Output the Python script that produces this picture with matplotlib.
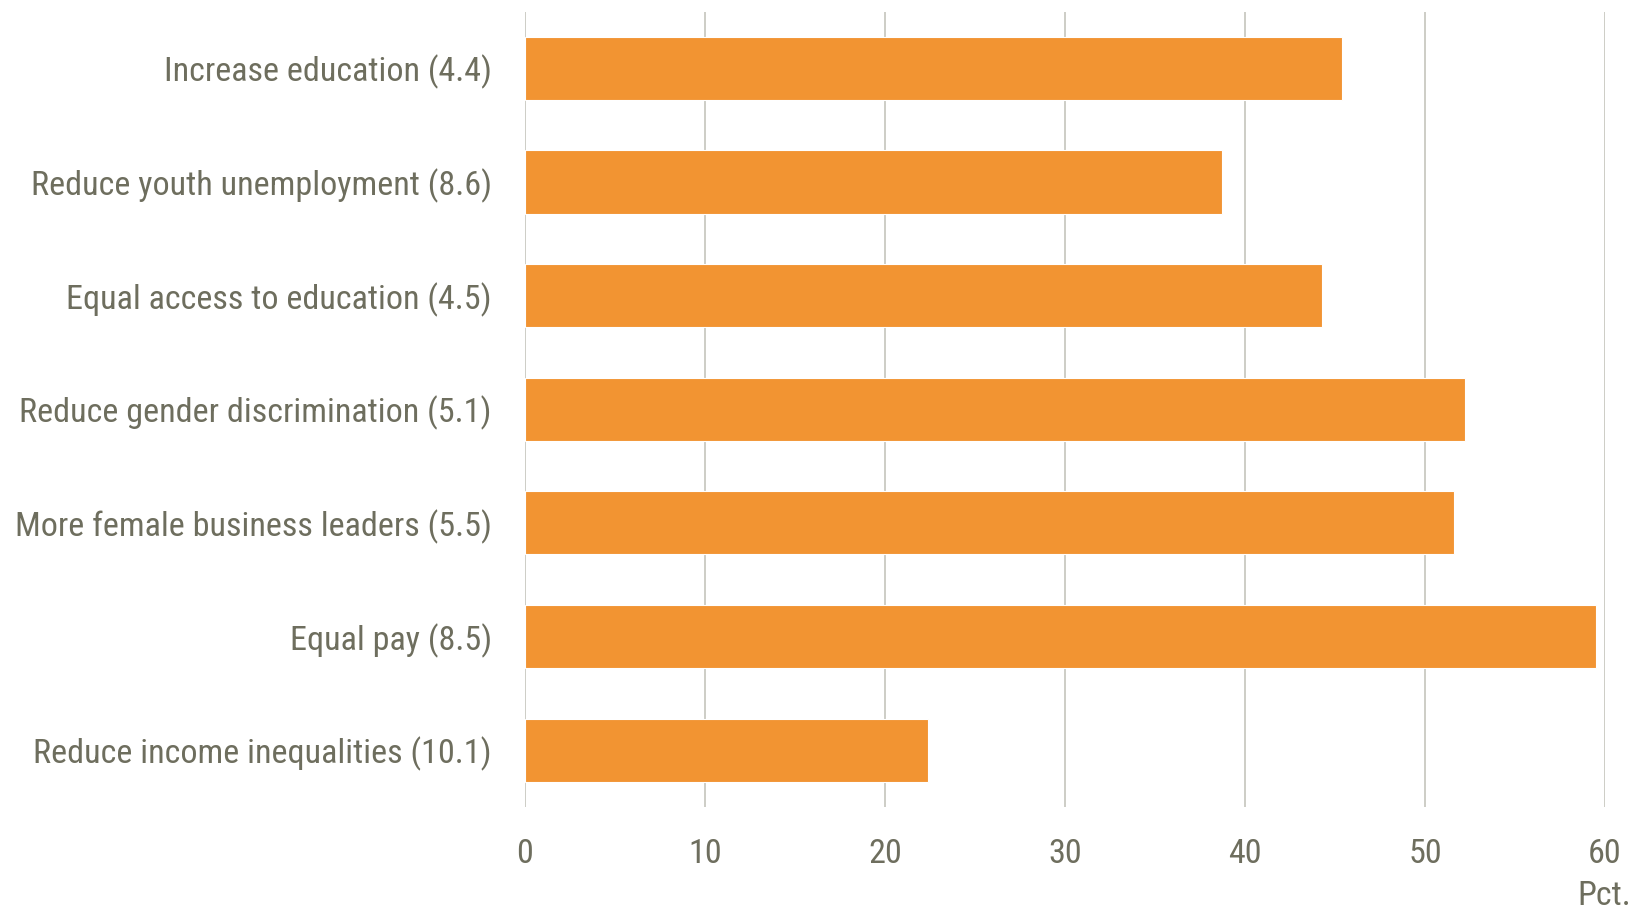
import matplotlib
matplotlib.use("Agg")
import matplotlib.pyplot as plt
from matplotlib import font_manager

categories = [
    "Increase education (4.4)",
    "Reduce youth unemployment (8.6)",
    "Equal access to education (4.5)",
    "Reduce gender discrimination (5.1)",
    "More female business leaders (5.5)",
    "Equal pay (8.5)",
    "Reduce income inequalities (10.1)",
]
values = [45.4, 38.7, 44.3, 52.2, 51.6, 59.5, 22.4]
xticks = [0, 10, 20, 30, 40, 50, 60]

# look for a condensed / narrow sans font (Arial Narrow look-alike)
prefs = ["Liberation Sans Narrow", "Roboto Condensed", "Open Sans Condensed",
         "Noto Sans Condensed", "DejaVu Sans Condensed"]
entries = font_manager.fontManager.ttflist
chosen = None
for p in prefs:
    for f in entries:
        if f.name == p and f.weight in (400, "normal", "regular") and f.style == "normal":
            chosen = f
            break
    if chosen:
        break
if chosen is None:
    for f in entries:
        st = str(f.stretch).lower()
        fn = f.fname.lower()
        if (("condensed" in st or "narrow" in fn or "condensed" in fn)
                and f.style == "normal" and f.weight in (400, "normal", "regular")
                and "bold" not in fn and "light" not in fn and "italic" not in fn):
            chosen = f
            break

if chosen is not None:
    narrow = "narrow" in chosen.fname.lower()
    fsize = 27 if narrow else 24.6
    font_kw = dict(fname=chosen.fname, size=fsize)
else:
    fsize = 23
    font_kw = dict(family=["Liberation Sans", "DejaVu Sans"], size=fsize)
fp = font_manager.FontProperties(**font_kw)

text_color = "#6E6E5E"
grid_color = "#C9C9C1"
bar_color = "#F29432"

fig = plt.figure(figsize=(16.28, 9.11), dpi=100)
ax = fig.add_axes([525/1628, 1-807/911, (1605-525)/1628, (807-11.5)/911])

y = list(range(len(categories)))
ax.barh(y, values, height=0.555, color=bar_color, edgecolor="white", linewidth=0.8, zorder=3)
ax.set_ylim(len(categories)-0.5, -0.5)
ax.set_xlim(0, 60)
ax.set_xticks(xticks)
ax.set_xticklabels([str(t) for t in xticks])
ax.set_yticks(y)
ax.set_yticklabels(categories)
for s in ax.spines.values():
    s.set_visible(False)
ax.grid(axis="x", color=grid_color, linewidth=1.3, zorder=0)
ax.tick_params(axis="both", length=0, colors=text_color)
ax.tick_params(axis="y", pad=24)
ax.tick_params(axis="x", pad=22)
for lab in ax.get_xticklabels() + ax.get_yticklabels():
    lab.set_fontproperties(fp)
    lab.set_color(text_color)
ax.text(0.974, -0.112, "Pct.", transform=ax.transAxes, ha="left", va="center",
        fontproperties=fp, color=text_color, clip_on=False)
fig.savefig("out.png", dpi=100)
